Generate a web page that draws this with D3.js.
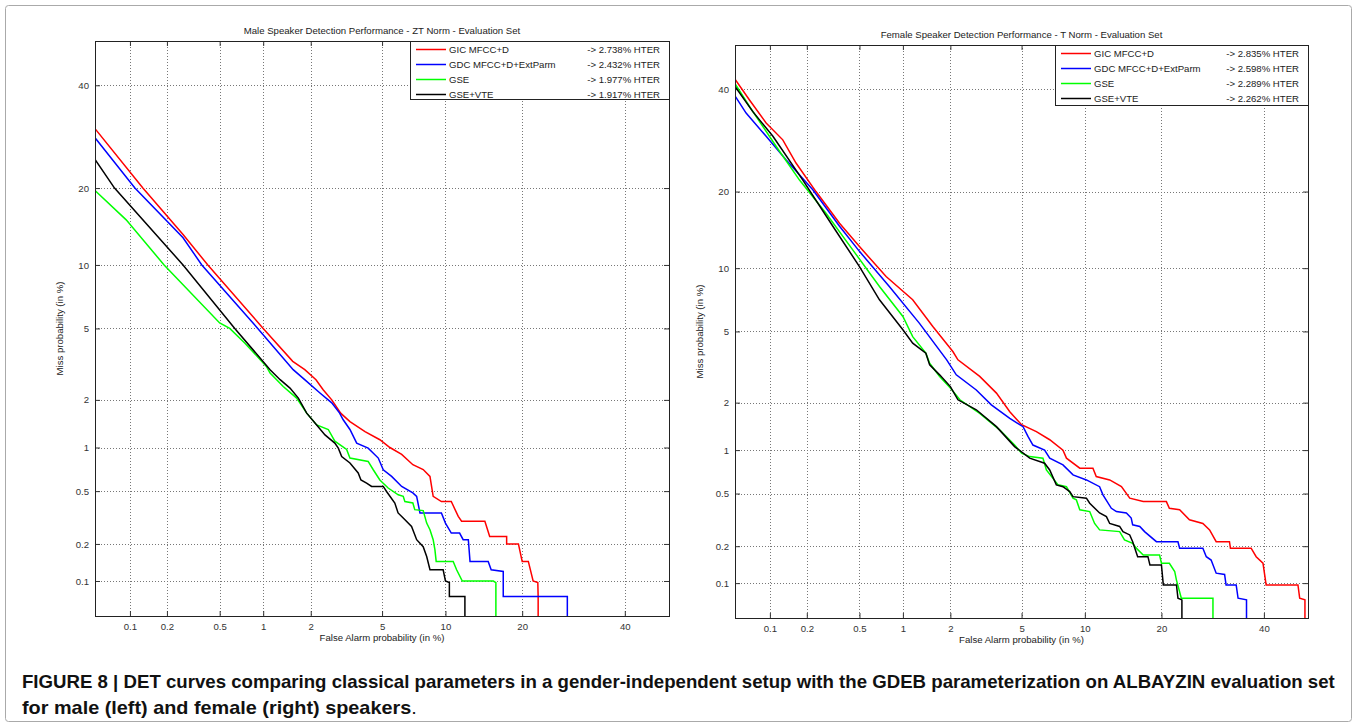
<!DOCTYPE html>
<html>
<head>
<meta charset="utf-8">
<script src="https://cdn.jsdelivr.net/npm/d3@7"></script>
<style>
  body { margin: 0; background: #fff; }
  svg text { font-family: "Liberation Sans", Arial, Helvetica, sans-serif; }
</style>
</head>
<body>
<div id="chart"></div>
<script>
// tick values (in %) used on both axes of both DET plots
var tickPct = [0.1, 0.2, 0.5, 1, 2, 5, 10, 20, 40];
var tickLabels = ["0.1", "0.2", "0.5", "1", "2", "5", "10", "20", "40"];
var axisLimits = [0.05, 50]; // percent

var seriesNames = ["GIC MFCC+D", "GDC MFCC+D+ExtParm", "GSE", "GSE+VTE"];
var seriesColors = ["#ff0000", "#0000ff", "#00ff00", "#000000"];
var maleHter = ["2.738", "2.432", "1.977", "1.917"];
var femaleHter = ["2.835", "2.598", "2.289", "2.262"];

// male curves, points are [false alarm %, miss %]
var maleGic = [[0.05,30.8],[0.128,20],[0.267,13.4],[0.41,10],[1.0,5],[1.55,3.34],[1.84,3.0],[2.15,2.63],[2.37,2.3],[2.66,2.0],[2.99,1.66],[3.37,1.47],[4.07,1.27],[4.87,1.125],[5.48,1.0],[6.27,0.9],[7.1,0.766],[7.94,0.71],[8.53,0.636],[8.82,0.458],[9.6,0.42],[10.6,0.42],[11.35,0.326],[11.72,0.3],[14.56,0.3],[15.2,0.229],[17.6,0.229],[17.6,0.2],[19.4,0.2],[20,0.145],[21,0.145],[21.8,0.1],[22.6,0.097],[22.66,0.074],[22.66,0.05]];
var maleGdc = [[0.05,29],[0.11,20],[0.267,13],[0.37,10],[0.92,5],[1.56,3.0],[1.89,2.57],[2.27,2.2],[2.66,1.92],[2.95,1.66],[3.09,1.51],[3.37,1.31],[3.67,1.07],[4.23,0.99],[4.78,0.85],[5.07,0.707],[5.59,0.636],[6.27,0.54],[7.1,0.485],[7.4,0.458],[7.67,0.346],[9.6,0.346],[10,0.29],[10.6,0.243],[11.5,0.243],[11.9,0.216],[12.5,0.216],[12.7,0.145],[15,0.145],[15.4,0.124],[17.1,0.12],[17.1,0.074],[28,0.074],[28,0.05]];
var maleGse = [[0.05,19.6],[0.093,15.3],[0.19,10],[0.5,5.33],[0.59,5],[0.75,4.2],[1.05,3.13],[1.11,2.87],[1.35,2.4],[1.64,2.05],[1.89,1.66],[2.17,1.4],[2.54,1.31],[2.77,1.1],[3.23,0.97],[3.37,0.85],[4.23,0.806],[4.5,0.707],[4.87,0.6],[5.37,0.526],[6.03,0.47],[6.38,0.458],[6.5,0.42],[7.1,0.41],[7.25,0.366],[7.94,0.36],[8.24,0.29],[8.53,0.258],[8.82,0.216],[8.98,0.18],[9.1,0.145],[10.8,0.145],[11.17,0.124],[11.8,0.1],[15.7,0.1],[16.05,0.097],[16.05,0.05]];
var maleGseVte = [[0.05,24.9],[0.074,20],[0.267,10],[0.64,5],[1.11,3.0],[1.29,2.63],[1.49,2.35],[1.68,2.05],[1.89,1.66],[2.17,1.4],[2.43,1.21],[2.77,1.07],[2.9,0.99],[3.03,0.87],[3.37,0.787],[3.74,0.672],[3.87,0.6],[4.15,0.571],[4.41,0.54],[5.07,0.54],[5.27,0.497],[5.8,0.41],[6.02,0.346],[6.38,0.317],[7.0,0.273],[7.4,0.216],[7.94,0.19],[8.24,0.159],[8.53,0.124],[9.77,0.124],[10,0.1],[10.4,0.097],[10.4,0.074],[12.1,0.074],[12.1,0.05]];

// female curves
var femaleGic = [[0.05,42.2],[0.067,37.6],[0.093,32.7],[0.128,29.3],[0.164,24.9],[0.236,20],[0.357,15.3],[0.5,12.35],[0.77,9.18],[1.16,7.17],[1.56,5.3],[2.07,3.92],[2.22,3.53],[2.97,2.85],[3.68,2.28],[4.34,1.76],[5,1.46],[5.94,1.32],[6.9,1.17],[7.97,1.0],[8.27,0.883],[9.5,0.755],[10.84,0.755],[11.2,0.66],[12.74,0.625],[14.2,0.56],[15.3,0.463],[17.2,0.437],[20.8,0.437],[21.3,0.39],[23.05,0.38],[24.8,0.32],[27.3,0.30],[28.6,0.268],[29.9,0.217],[32.6,0.217],[32.8,0.193],[37.2,0.193],[38.3,0.165],[39.8,0.146],[40.5,0.0966],[47.7,0.0966],[48.1,0.0744],[49.3,0.072],[49.3,0.05]];
var femaleGdc = [[0.05,38.5],[0.0626,34.8],[0.093,30],[0.136,25.5],[0.223,20.3],[0.357,14.9],[0.5,11.8],[0.81,8.27],[1.28,5.51],[1.9,3.53],[2.17,2.91],[2.84,2.38],[3.45,1.94],[4.34,1.6],[5.09,1.42],[5.39,1.23],[5.71,1.08],[6.52,1.0],[6.9,0.883],[7.97,0.795],[8.86,0.678],[10.16,0.625],[11.57,0.56],[11.95,0.489],[12.94,0.39],[13.56,0.369],[14.85,0.36],[15.5,0.33],[15.7,0.293],[16.7,0.285],[17.4,0.26],[19.2,0.217],[22.76,0.217],[23.05,0.193],[27.3,0.193],[27.96,0.165],[28.9,0.155],[29.9,0.121],[31.6,0.118],[31.9,0.0966],[34,0.0966],[34.4,0.0744],[36.2,0.072],[36.2,0.05]];
var femaleGse = [[0.05,41.2],[0.067,36.2],[0.113,28],[0.175,21.9],[0.282,16.7],[0.447,11.97],[0.693,8.27],[1.0,5.95],[1.16,4.7],[1.41,3.84],[1.49,3.38],[1.72,2.85],[2.0,2.44],[2.28,2.08],[2.97,1.72],[3.83,1.355],[4.6,1.08],[5,0.954],[5.5,0.905],[6.4,0.883],[6.65,0.734],[7.56,0.577],[8.27,0.56],[8.86,0.463],[9.17,0.45],[9.5,0.38],[10.5,0.369],[11.02,0.30],[11.57,0.268],[13.97,0.26],[14.6,0.224],[15.7,0.211],[16.2,0.193],[17.2,0.17],[19.7,0.17],[20,0.146],[21.3,0.146],[22.2,0.125],[22.5,0.106],[23.35,0.0744],[29.26,0.0744],[29.26,0.05]];
var femaleGseVte = [[0.05,40.6],[0.0716,35.1],[0.106,30],[0.186,21.9],[0.318,14.9],[0.5,10.16],[0.693,7.17],[1.0,5.1],[1.16,4.34],[1.41,3.84],[1.49,3.31],[1.72,2.91],[2.0,2.49],[2.22,2.08],[2.84,1.81],[3.68,1.42],[4.6,1.055],[5.5,0.883],[6.52,0.816],[6.9,0.734],[7.42,0.577],[7.97,0.56],[8.56,0.516],[8.86,0.475],[10.16,0.463],[10.5,0.425],[11.57,0.36],[12.35,0.338],[12.74,0.30],[13.97,0.285],[14.4,0.26],[15.3,0.245],[15.7,0.217],[16.4,0.165],[17.9,0.165],[18.2,0.1415],[20,0.1415],[20.3,0.0966],[22.5,0.0966],[22.76,0.0744],[23.45,0.072],[23.45,0.05]];

var width = 1357;
var height = 727;

// inverse of the normal cdf (Acklam's approximation), DET plots use this warping
function probit(p) {
  var a = [-39.69683028665376, 220.9460984245205, -275.9285104469687, 138.3577518672690, -30.66479806614716, 2.506628277459239];
  var b = [-54.47609879822406, 161.5858368580409, -155.6989798598866, 66.80131188771972, -13.28068155288572];
  var c = [-0.007784894002430293, -0.3223964580411365, -2.400758277161838, -2.549671010139803, 4.374664141464968, 2.938163982698783];
  var d = [0.007784695709041462, 0.3224671290700398, 2.445134137142996, 3.754408661907416];
  var plow = 0.02425, q, r;
  if (p < plow) {
    q = Math.sqrt(-2 * Math.log(p));
    return (((((c[0]*q+c[1])*q+c[2])*q+c[3])*q+c[4])*q+c[5]) / ((((d[0]*q+d[1])*q+d[2])*q+d[3])*q+1);
  }
  if (p <= 1 - plow) {
    q = p - 0.5; r = q * q;
    return (((((a[0]*r+a[1])*r+a[2])*r+a[3])*r+a[4])*r+a[5])*q / (((((b[0]*r+b[1])*r+b[2])*r+b[3])*r+b[4])*r+1);
  }
  q = Math.sqrt(-2 * Math.log(1 - p));
  return -(((((c[0]*q+c[1])*q+c[2])*q+c[3])*q+c[4])*q+c[5]) / ((((d[0]*q+d[1])*q+d[2])*q+d[3])*q+1);
}
function z(pct) { return probit(pct / 100); }

var svg = d3.select("#chart")
  .append("svg")
  .attr("width", width)
  .attr("height", height);

// thin frame round the whole figure
svg.append("rect")
  .attr("x", 5.5).attr("y", 5.5)
  .attr("width", width - 11).attr("height", height - 11)
  .attr("rx", 3)
  .attr("fill", "none")
  .attr("stroke", "#aaa");

function drawDet(cfg) {
  var x = d3.scaleLinear()
    .domain([z(axisLimits[0]), z(axisLimits[1])])
    .range([cfg.left, cfg.right]);
  var y = d3.scaleLinear()
    .domain([z(axisLimits[0]), z(axisLimits[1])])
    .range([cfg.bottom, cfg.top]);
  var tickZ = tickPct.map(z);
  var fmt = function(d, i) { return tickLabels[i]; };

  var g = svg.append("g");

  // dotted grid
  g.selectAll(".vgrid").data(tickZ).enter().append("line")
    .attr("x1", function(d) { return Math.round(x(d)) + 0.5; })
    .attr("x2", function(d) { return Math.round(x(d)) + 0.5; })
    .attr("y1", cfg.top).attr("y2", cfg.bottom)
    .attr("stroke", "#777").attr("stroke-dasharray", "1,2");
  g.selectAll(".hgrid").data(tickZ).enter().append("line")
    .attr("y1", function(d) { return Math.round(y(d)) + 0.5; })
    .attr("y2", function(d) { return Math.round(y(d)) + 0.5; })
    .attr("x1", cfg.left).attr("x2", cfg.right)
    .attr("stroke", "#777").attr("stroke-dasharray", "1,2");

  // axes with inward ticks on all four sides
  var axes = [
    [d3.axisBottom(x), "translate(0," + cfg.bottom + ")", true],
    [d3.axisTop(x), "translate(0," + cfg.top + ")", false],
    [d3.axisLeft(y), "translate(" + cfg.left + ",0)", true],
    [d3.axisRight(y), "translate(" + cfg.right + ",0)", false]
  ];
  axes.forEach(function(a) {
    var ax = a[0].tickValues(tickZ).tickSizeInner(-5).tickSizeOuter(0)
      .tickPadding(a[0] === axes[2][0] ? 6 : 7)
      .tickFormat(a[2] ? fmt : "");
    var ag = g.append("g").attr("transform", a[1]).call(ax);
    ag.select(".domain").remove();
    ag.selectAll(".tick line").attr("stroke", "#333");
    ag.selectAll(".tick text")
      .attr("fill", "#333")
      .style("font-size", "9.6px")
      .style("font-family", "'Liberation Sans', Arial, sans-serif");
  });

  // curves
  var clipId = "clip" + cfg.id;
  svg.append("clipPath").attr("id", clipId)
    .append("rect")
    .attr("x", cfg.left).attr("y", cfg.top)
    .attr("width", cfg.right - cfg.left).attr("height", cfg.bottom - cfg.top);

  var line = d3.line()
    .x(function(d) { return x(z(d[0])); })
    .y(function(d) { return y(z(d[1])); });

  g.append("g").attr("clip-path", "url(#" + clipId + ")")
    .selectAll("path")
    .data(cfg.curves)
    .enter()
    .append("path")
    .attr("d", line)
    .attr("fill", "none")
    .attr("stroke", function(d, i) { return seriesColors[i]; })
    .attr("stroke-width", 1.5)
    .attr("stroke-linejoin", "miter");

  // axes box
  g.append("rect")
    .attr("x", cfg.left + 0.5).attr("y", cfg.top + 0.5)
    .attr("width", cfg.right - cfg.left).attr("height", cfg.bottom - cfg.top)
    .attr("fill", "none").attr("stroke", "#222");

  // labels
  g.append("text")
    .attr("x", (cfg.left + cfg.right) / 2).attr("y", cfg.top - 7)
    .attr("text-anchor", "middle")
    .attr("fill", "#222").style("font-size", "9.6px")
    .text(cfg.title);
  g.append("text")
    .attr("x", (cfg.left + cfg.right) / 2).attr("y", cfg.bottom + 25)
    .attr("text-anchor", "middle")
    .attr("fill", "#222").style("font-size", "9.6px")
    .text("False Alarm probability (in %)");
  g.append("text")
    .attr("transform", "translate(" + (cfg.left - 32) + "," + ((cfg.top + cfg.bottom) / 2) + ")rotate(-90)")
    .attr("text-anchor", "middle")
    .attr("fill", "#222").style("font-size", "9.6px")
    .text("Miss probability (in %)");

  // legend
  var leg = g.append("g");
  leg.append("rect")
    .attr("x", cfg.legX + 0.5).attr("y", cfg.top + 0.5)
    .attr("width", cfg.right - cfg.legX).attr("height", cfg.legH)
    .attr("fill", "#fff").attr("stroke", "#222");
  var rows = leg.selectAll(".row").data(seriesNames).enter().append("g")
    .attr("transform", function(d, i) {
      return "translate(0," + (cfg.top + cfg.legRow0 + i * cfg.legStep) + ")";
    });
  rows.append("line")
    .attr("x1", cfg.legX + 6).attr("x2", cfg.legX + 36)
    .attr("y1", 0.5).attr("y2", 0.5)
    .attr("stroke", function(d, i) { return seriesColors[i]; })
    .attr("stroke-width", 1.5);
  rows.append("text")
    .attr("x", cfg.legX + 39).attr("y", 4)
    .attr("fill", "#222").style("font-size", "9.6px")
    .text(function(d) { return d; });
  rows.append("text")
    .attr("x", cfg.right - 9).attr("y", 4)
    .attr("text-anchor", "end")
    .attr("fill", "#222").style("font-size", "9.6px")
    .text(function(d, i) { return "-> " + cfg.hter[i] + "% HTER"; });
}

drawDet({
  id: "male", left: 95, right: 669, top: 41, bottom: 616,
  title: "Male Speaker Detection Performance - ZT Norm - Evaluation Set",
  curves: [maleGic, maleGdc, maleGse, maleGseVte],
  hter: maleHter, legX: 410, legH: 58, legRow0: 8, legStep: 15
});
drawDet({
  id: "female", left: 735, right: 1308, top: 45, bottom: 618,
  title: "Female Speaker Detection Performance - T Norm - Evaluation Set",
  curves: [femaleGic, femaleGdc, femaleGse, femaleGseVte],
  hter: femaleHter, legX: 1055, legH: 60, legRow0: 8, legStep: 15
});

// caption, each line squeezed to the width it has in the figure
function captionLine(yPos, target, parts) {
  var t = svg.append("text").attr("x", 22).attr("y", yPos)
    .attr("fill", "#111").style("font-size", "18px");
  parts.forEach(function(p) {
    t.append("tspan").style("font-weight", p[1] ? "bold" : "normal").text(p[0]);
  });
  var k = target / t.node().getComputedTextLength();
  t.attr("transform", "translate(22,0) scale(" + k + ",1) translate(-22,0)");
}
captionLine(688, 1314, [["FIGURE 8 | DET curves comparing classical parameters in a gender-independent setup with the GDEB parameterization on ALBAYZIN evaluation set", true]]);
captionLine(714, 395, [["for male (left) and female (right) speakers", true], [".", false]]);
</script>
</body>
</html>
